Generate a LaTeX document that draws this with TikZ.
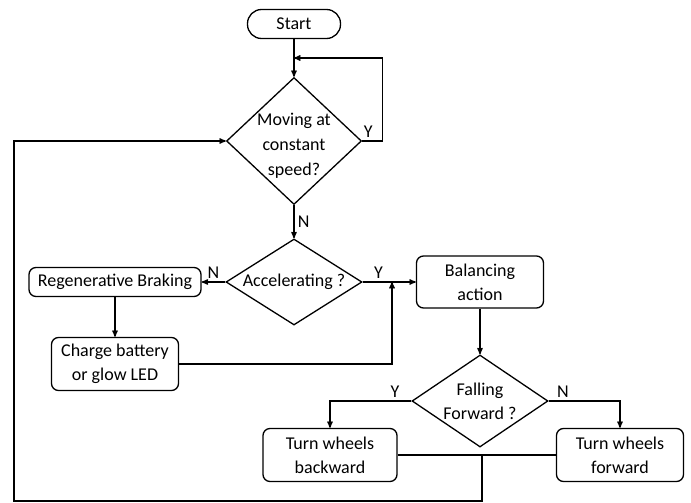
\documentclass[tikz,border=0pt]{standalone}
\usepackage{fontspec}
\setmainfont{Carlito}
\usepackage{tikz}
\usetikzlibrary{arrows,shapes,calc}

\begin{document}
\begin{tikzpicture}[->,>=stealth',x=1pt,y=-1pt,line width=1.3pt,node distance=117pt,font=\fontsize{18}{24}\selectfont]
 \tikzstyle{every node}=[align=center]
 \tikzstyle{terminal}=[draw,rounded corners=14pt,minimum width=93pt,minimum height=29pt,inner sep=0pt]
 \tikzstyle{process}=[draw,rounded corners=7pt,minimum width=127pt,minimum height=53pt,inner sep=0pt]
 \tikzstyle{decision}=[draw,diamond,inner sep=-8pt]
 \useasboundingbox (0,0) rectangle (691,503);

   \node[terminal] (start) at (294,24) {Start};
   \node[decision,minimum width=135pt,minimum height=127pt] (moving) [below of = start] {};
   \node[font=\fontsize{18}{25}\selectfont] (movingtext) at ($(moving.center)+(0,5)$) {Moving at\\constant\\speed?};
   \node[decision,minimum width=136pt,minimum height=80pt,node distance=141pt] (accel) [below of = moving] {Accelerating ?};
   \node[process,minimum width=172pt,minimum height=29pt,node distance=179pt] (regen) [left of = accel] {Regenerative Braking};
   \node[process,node distance=82pt] (charge) [below of = regen] {Charge battery\\or glow LED};
   \node[process,minimum height=52pt,node distance=186pt] (balance) [right of = accel] {Balancing\\action};
   \node[decision,minimum width=136pt,minimum height=92pt,node distance=119pt] (fall) [below of = balance] {Falling\\Forward ?};
   \node[process,minimum width=134pt] (back) at (330,455) {Turn wheels\\backward};
   \node[process] (fwd) at (620,455) {Turn wheels\\forward};

   \coordinate (loopin) at (294,58);
   \coordinate (merge) at (392,282);
   \coordinate (join) at (482,455);
   \coordinate (corner) at (14,501);

   \path[->]
   (start) edge (moving)
   (moving) edge node[right] {N} (accel)
   (accel) edge node[above] {N} (regen)
   (accel) edge node[above,pos=0.3] {Y} (balance)
   (regen) edge (charge)
   (balance) edge (fall);

   \draw[->] (moving.east) -- node[above,pos=0.3] {Y} ++(20,0) |- (loopin);
   \draw[->] (charge.east) -| (merge);
   \draw[->] (fall.west) -| node[above,pos=0.1] {Y} (back.north);
   \draw[->] (fall.east) -| node[above,pos=0.1] {N} (fwd.north);
   \draw[-] (back.east) -- (fwd.west);
   \draw[->] (join) |- (corner) |- (moving.west);

\end{tikzpicture}
\end{document}
